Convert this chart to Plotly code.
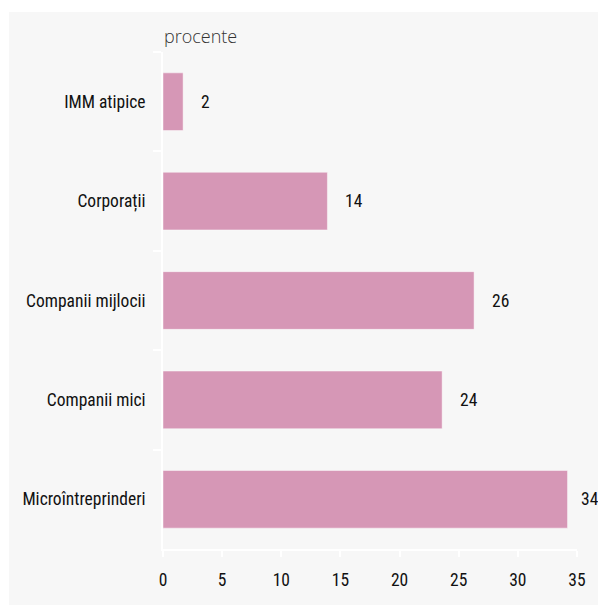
import plotly.graph_objects as go

categories = ["IMM atipice", "Corporații", "Companii mijlocii", "Companii mici", "Microîntreprinderi"]
values = [1.7, 13.9, 26.3, 23.6, 34.2]
labels = ["2", "14", "26", "24", "34"]
x_ticks = [0, 5, 10, 15, 20, 25, 30, 35]

FONT = "Roboto Condensed, DejaVu Sans Condensed, sans-serif"
BAR = "#d697b6"
BG = "#f7f7f7"

fig = go.Figure()
fig.add_trace(go.Bar(
    x=values, y=categories, orientation="h",
    marker=dict(color=BAR, line=dict(color="rgba(255,255,255,0.45)", width=1)),
    width=0.58, hoverinfo="x+y",
))

for i, (c, v, t) in enumerate(zip(categories, values, labels)):
    shift = 11 if i == len(categories) - 1 else 16
    fig.add_annotation(x=v, y=c, text=t, showarrow=False, xanchor="left",
                       xshift=shift, font=dict(family=FONT, size=17.5, color="#111"))

fig.add_annotation(x=0, y=1, xref="paper", yref="paper", text="procente",
                   showarrow=False, xanchor="left", yanchor="bottom", yshift=2, xshift=-1,
                   font=dict(family="Open Sans, sans-serif", size=18, color="#333", weight=300))

fig.add_shape(type="rect", xref="paper", yref="paper", x0=-0.372, x1=1.2,
              y0=-0.2, y1=1.0805, fillcolor=BG, line=dict(width=0), layer="below")

fig.update_layout(
    width=606, height=605,
    margin=dict(l=155, r=37, t=44, b=64),
    paper_bgcolor="white", plot_bgcolor=BG,
    showlegend=False,
    font=dict(family=FONT, size=17.5, color="#111"),
    xaxis=dict(range=[0, 35], tickvals=x_ticks, showgrid=False, zeroline=False,
               showline=True, linecolor="white", linewidth=2, automargin=False,
               ticks="outside", tickcolor="white", ticklen=6, tickwidth=2,
               ticklabelstandoff=8,
               tickfont=dict(family=FONT, size=17.5, color="#111")),
    yaxis=dict(autorange="reversed", showgrid=False, zeroline=False,
               showline=True, linecolor="white", linewidth=2, automargin=False,
               ticks="outside", tickson="boundaries", tickcolor="white", ticklen=8, tickwidth=2,
               ticklabelstandoff=12,
               tickfont=dict(family=FONT, size=17.5, color="#111")),
)

fig.write_html("out.html")
